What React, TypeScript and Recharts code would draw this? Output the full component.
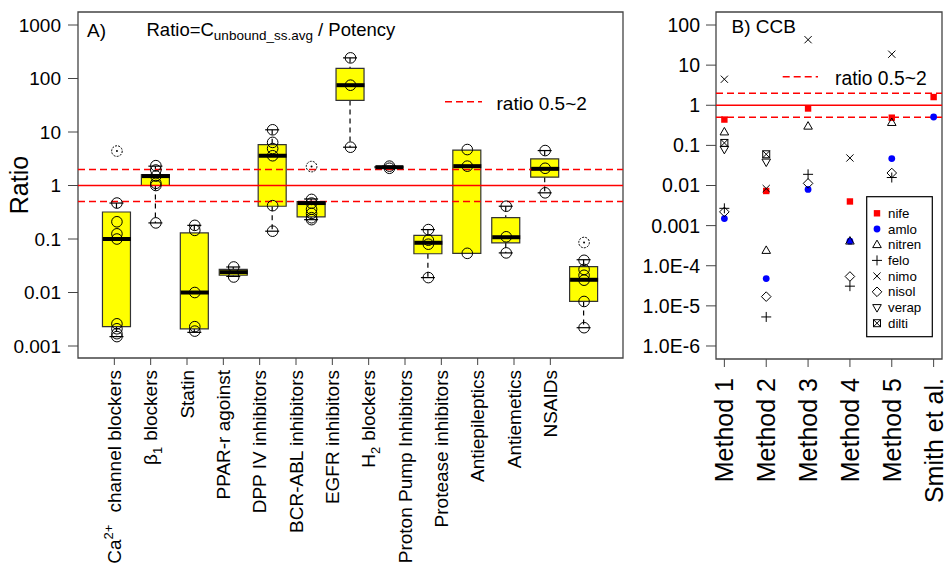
import React from 'react';
import { ComposedChart, Bar, Scatter, XAxis, YAxis, ReferenceLine, ReferenceArea } from 'recharts';

const FONT = '"Liberation Sans", Arial, Helvetica, sans-serif';

// ---- panel A: ratio per drug class (boxplot + individual drugs) ----
const categoryNames = [
  'Ca2+ channel blockers', 'β1 blockers', 'Statin', 'PPAR-r agoinst', 'DPP IV inhibitors',
  'BCR-ABL inhibitors', 'EGFR inhibitors', 'H2 blockers', 'Proton Pump Inhibitors',
  'Protease inhibitors', 'Antiepileptics', 'Antiemetics', 'NSAIDs',
];
const categoryLabels: { main: string; sup?: string; sub?: string; rest?: string; gap?: number }[] = [
  { main: 'Ca', sup: '2+', rest: 'channel blockers', gap: 12 },
  { main: 'β', sub: '1', rest: 'blockers', gap: 6 },
  { main: 'Statin' },
  { main: 'PPAR-r agoinst' },
  { main: 'DPP IV inhibitors' },
  { main: 'BCR-ABL inhibitors' },
  { main: 'EGFR inhibitors' },
  { main: 'H', sub: '2', rest: 'blockers', gap: 6 },
  { main: 'Proton Pump Inhibitors' },
  { main: 'Protease inhibitors' },
  { main: 'Antiepileptics' },
  { main: 'Antiemetics' },
  { main: 'NSAIDs' },
];
const whiskerLow = [0.0015, 0.2, 0.0018, 0.02, 0.14, 0.23, 5.2, 2.1, 0.019, 0.054, 0.055, 0.73, 0.0022];
const boxQ1 = [0.0023, 1.0, 0.0021, 0.021, 0.41, 0.26, 39, 2.15, 0.053, 0.054, 0.085, 1.43, 0.0068];
const boxMedian = [0.1, 1.5, 0.01, 0.024, 3.6, 0.47, 75, 2.2, 0.085, 2.3, 0.108, 2.05, 0.0173];
const boxQ3 = [0.32, 1.6, 0.13, 0.027, 5.8, 0.5, 155, 2.25, 0.117, 4.6, 0.25, 3.15, 0.0306];
const whiskerHigh = [0.47, 2.3, 0.18, 0.03, 11, 0.56, 243, 2.3, 0.15, 4.7, 0.41, 4.5, 0.041];
const classPoints = [
  [0.47, 0.21, 0.125, 0.1, 0.0026, 0.0021, 0.0017, 0.0015],
  [2.35, 1.95, 1.5, 1.1, 1.0, 0.2],
  [0.18, 0.145, 0.01, 0.0023, 0.0019],
  [0.03, 0.0195],
  [11, 6.4, 4.9, 3.6, 0.42, 0.14],
  [0.55, 0.47, 0.36, 0.3, 0.25, 0.23],
  [243, 75, 5.2],
  [2.3, 2.1],
  [0.15, 0.095, 0.08, 0.019],
  [4.7, 2.3, 0.054],
  [0.41, 0.11, 0.055],
  [4.5, 2.1, 0.73],
  [0.04, 0.027, 0.021, 0.017, 0.0068, 0.0022],
];
const classOutliers = [[4.4], [], [], [], [], [2.26], [], [], [], [], [], [], [0.086]];
const yTicksA = [0.001, 0.01, 0.1, 1, 10, 100, 1000];
const yTickLabelsA = ['0.001', '0.01', '0.1', '1', '10', '100', '1000'];

// ---- panel B: CCB, ratio by method ----
const methods = ['Method 1', 'Method 2', 'Method 3', 'Method 4', 'Method 5', 'Smith et al.'];
const nife = [0.44, 0.0073, 0.83, 0.004, 0.49, 1.6];
const amlo = [0.0015, 4.8e-5, 0.008, 4.1e-4, 0.047, 0.51];
const nitren = [0.215, 2.4e-4, 0.3, 4.1e-4, 0.37, null];
const felo = [0.0027, 5.3e-6, 0.019, 3.1e-5, 0.0158, null];
const nimo = [4.45, 0.0084, 43, 0.0485, 18.7, null];
const nisol = [0.0022, 1.7e-5, 0.0113, 5.4e-5, 0.0205, null];
const verap = [0.08, 0.0386, null, null, null, null];
const dilti = [0.115, 0.06, null, null, null, null];
const yTicksB = [1e-6, 1e-5, 1e-4, 0.001, 0.01, 0.1, 1, 10, 100];
const yTickLabelsB = ['1.0E-6', '1.0E-5', '1.0E-4', '0.001', '0.01', '0.1', '1', '10', '100'];

const boxRows = categoryNames.map((name, i) => ({
  pos: i + 1, name, low: whiskerLow[i], q1: boxQ1[i], med: boxMedian[i], q3: boxQ3[i], high: whiskerHigh[i],
}));
const medianRows = boxRows.map((r) => ({ pos: r.pos, v: r.med }));
const pointRows = classPoints.flatMap((vals, i) => vals.map((v) => ({ pos: i + 1, v })));
const outlierRows = classOutliers.flatMap((vals, i) => vals.map((v) => ({ pos: i + 1, v })));
// the labels in the original sit on a 15-slot axis, the boxes on a 14-slot one
const labelTicks = categoryNames.map((_, i) => ((i + 1) * 14) / 15);
const methodTicks = methods.map((_, i) => i + 1);

const compounds = [
  { name: 'nife', values: nife, kind: 'square' },
  { name: 'amlo', values: amlo, kind: 'dot' },
  { name: 'nitren', values: nitren, kind: 'tri' },
  { name: 'felo', values: felo, kind: 'plus' },
  { name: 'nimo', values: nimo, kind: 'cross' },
  { name: 'nisol', values: nisol, kind: 'diamond' },
  { name: 'verap', values: verap, kind: 'triDown' },
  { name: 'dilti', values: dilti, kind: 'boxX' },
].map((c) => ({
  ...c,
  rows: c.values.map((v, i) => ({ m: i + 1, v })).filter((r) => r.v != null),
}));

const RED = '#ff0000';
const BOX_W = 28;

function CategoryTick({ x, y, payload }: any) {
  const idx = labelTicks.findIndex((t) => Math.abs(t - payload.value) < 1e-6);
  const lab = categoryLabels[idx];
  if (!lab) return null;
  const shift = lab.sup ? -8 : lab.sub ? 5 : 0;
  return (
    <text x={x} y={y} transform={`rotate(-90 ${x} ${y})`} textAnchor="end" dy="0.36em"
      fontSize={19} fontFamily={FONT} fill="#000">
      <tspan>{lab.main}</tspan>
      {lab.sup && <tspan fontSize={13} dy={shift}>{lab.sup}</tspan>}
      {lab.sub && <tspan fontSize={13} dy={shift}>{lab.sub}</tspan>}
      {lab.rest && <tspan dx={lab.gap} dy={-shift}>{lab.rest}</tspan>}
    </text>
  );
}

function MethodTick({ x, y, payload }: any) {
  const lab = methods[payload.value - 1];
  return (
    <text x={x} y={y} transform={`rotate(-90 ${x} ${y})`} textAnchor="end" dy="0.36em"
      fontSize={25} fontFamily={FONT} fill="#000">
      {lab}
    </text>
  );
}

function LowerWhisker(p: any) {
  const { x, y, width, height } = p;
  if (!(height > 0.5)) return null;
  const cx = x + width / 2;
  return (
    <g>
      <line x1={cx} x2={cx} y1={y} y2={y + height} stroke="#000" strokeWidth={1.2} strokeDasharray="5 4" />
      <line x1={cx - BOX_W / 4} x2={cx + BOX_W / 4} y1={y + height} y2={y + height} stroke="#000" strokeWidth={1.2} />
    </g>
  );
}

function UpperWhisker(p: any) {
  const { x, y, width, height } = p;
  if (!(height > 0.5)) return null;
  const cx = x + width / 2;
  return (
    <g>
      <line x1={cx} x2={cx} y1={y} y2={y + height} stroke="#000" strokeWidth={1.2} strokeDasharray="5 4" />
      <line x1={cx - BOX_W / 4} x2={cx + BOX_W / 4} y1={y} y2={y} stroke="#000" strokeWidth={1.2} />
    </g>
  );
}

function Marker({ kind, cx, cy }: { kind: string; cx: number; cy: number }) {
  const s = { fill: 'none', stroke: '#000', strokeWidth: 1 };
  switch (kind) {
    case 'square':
      return <rect x={cx - 3.2} y={cy - 3.2} width={6.4} height={6.4} fill={RED} />;
    case 'dot':
      return <circle cx={cx} cy={cy} r={3.4} fill="#0000ff" />;
    case 'tri':
      return <path d={`M${cx},${cy - 4.6} L${cx + 4.3},${cy + 2.9} L${cx - 4.3},${cy + 2.9} Z`} {...s} />;
    case 'triDown':
      return <path d={`M${cx},${cy + 4.6} L${cx + 4.3},${cy - 2.9} L${cx - 4.3},${cy - 2.9} Z`} {...s} />;
    case 'plus':
      return <path d={`M${cx - 5},${cy} H${cx + 5} M${cx},${cy - 5} V${cy + 5}`} {...s} />;
    case 'cross':
      return <path d={`M${cx - 3.6},${cy - 3.6} L${cx + 3.6},${cy + 3.6} M${cx - 3.6},${cy + 3.6} L${cx + 3.6},${cy - 3.6}`} {...s} />;
    case 'diamond':
      return <path d={`M${cx},${cy - 4.8} L${cx + 4.8},${cy} L${cx},${cy + 4.8} L${cx - 4.8},${cy} Z`} {...s} />;
    case 'boxX':
      return (
        <g {...s}>
          <rect x={cx - 3.5} y={cy - 3.5} width={7} height={7} />
          <path d={`M${cx - 3.5},${cy - 3.5} L${cx + 3.5},${cy + 3.5} M${cx - 3.5},${cy + 3.5} L${cx + 3.5},${cy - 3.5}`} />
        </g>
      );
    default:
      return null;
  }
}

const yMinA = Math.pow(10, -3.224);
const yMaxA = Math.pow(10, 3.243);
const yMinB = Math.pow(10, -6.324);
const yMaxB = Math.pow(10, 2.324);

function PanelA() {
  return (
    <ComposedChart width={640} height={566} data={boxRows} margin={{ top: 12, right: 17, bottom: 0, left: 0 }}>
      <XAxis dataKey="pos" type="number" domain={[0, 14]} allowDataOverflow ticks={labelTicks} interval={0}
        tick={<CategoryTick />} tickSize={7} tickMargin={5} height={208} axisLine={false}
        tickLine={{ stroke: '#444' }} />
      <XAxis xAxisId="wlo" dataKey="pos" type="number" domain={[0, 14]} allowDataOverflow hide />
      <XAxis xAxisId="whi" dataKey="pos" type="number" domain={[0, 14]} allowDataOverflow hide />
      <YAxis type="number" scale="log" domain={[yMinA, yMaxA]} allowDataOverflow ticks={yTicksA} interval={0}
        tickFormatter={(v: number) => yTickLabelsA[yTicksA.indexOf(v)] ?? String(v)}
        width={78} tickSize={10} tickMargin={7} axisLine={false} tickLine={{ stroke: '#444' }}
        tick={{ fontSize: 19, fill: '#000', fontFamily: FONT }} />
      <ReferenceLine y={1} stroke={RED} strokeWidth={1.5} />
      <ReferenceLine y={0.5} stroke={RED} strokeWidth={1.5} strokeDasharray="7 4" />
      <ReferenceLine y={2} stroke={RED} strokeWidth={1.5} strokeDasharray="7 4" />
      <Bar xAxisId="wlo" dataKey={(r: any) => [r.low, r.q1]} barSize={BOX_W} shape={LowerWhisker} isAnimationActive={false} />
      <Bar xAxisId="whi" dataKey={(r: any) => [r.q3, r.high]} barSize={BOX_W} shape={UpperWhisker} isAnimationActive={false} />
      <Bar dataKey={(r: any) => [r.q1, r.q3]} barSize={BOX_W} fill="#ffff00" stroke="#333" strokeWidth={1.2} isAnimationActive={false} />
      <Scatter data={medianRows} dataKey="v" isAnimationActive={false}
        shape={(p: any) => <line x1={p.cx - BOX_W / 2} x2={p.cx + BOX_W / 2} y1={p.cy} y2={p.cy} stroke="#000" strokeWidth={4} />} />
      <Scatter data={pointRows} dataKey="v" isAnimationActive={false}
        shape={(p: any) => <circle cx={p.cx} cy={p.cy} r={5.3} fill="none" stroke="#000" strokeWidth={1} />} />
      <Scatter data={outlierRows} dataKey="v" isAnimationActive={false}
        shape={(p: any) => (
          <g>
            <circle cx={p.cx} cy={p.cy} r={5.3} fill="none" stroke="#000" strokeWidth={1} strokeDasharray="2 1.2" />
            <circle cx={p.cx} cy={p.cy} r={1} fill="#000" />
          </g>
        )} />
      <ReferenceArea x1={0} x2={14} y1={yMinA} y2={yMaxA} fill="none" stroke="#444" strokeWidth={1.3} ifOverflow="visible" />
    </ComposedChart>
  );
}

function PanelB() {
  return (
    <ComposedChart width={307} height={566} margin={{ top: 12, right: 5, bottom: 0, left: 0 }}>
      <XAxis dataKey="m" type="number" domain={[0.8, 6.2]} allowDataOverflow ticks={methodTicks} interval={0}
        tick={<MethodTick />} tickSize={8} tickMargin={11} height={207} axisLine={false}
        tickLine={{ stroke: '#444' }} />
      <YAxis type="number" scale="log" domain={[yMinB, yMaxB]} allowDataOverflow ticks={yTicksB} interval={0}
        tickFormatter={(v: number) => yTickLabelsB[yTicksB.indexOf(v)] ?? String(v)}
        width={76} tickSize={10} tickMargin={6} axisLine={false} tickLine={{ stroke: '#444' }}
        tick={{ fontSize: 19.5, fill: '#000', fontFamily: FONT }} />
      <ReferenceLine y={1} stroke={RED} strokeWidth={1.5} />
      <ReferenceLine y={0.5} stroke={RED} strokeWidth={1.5} strokeDasharray="7 4" />
      <ReferenceLine y={2} stroke={RED} strokeWidth={1.5} strokeDasharray="7 4" />
      {compounds.map((c) => (
        <Scatter key={c.name} name={c.name} data={c.rows} dataKey="v" isAnimationActive={false}
          shape={(p: any) => <Marker kind={c.kind} cx={p.cx} cy={p.cy} />} />
      ))}
      <ReferenceArea x1={0.8} x2={6.2} y1={yMinB} y2={yMaxB} fill="none" stroke="#444" strokeWidth={1.3} ifOverflow="visible" />
    </ComposedChart>
  );
}

function Overlay() {
  const t = { fontFamily: FONT, fill: '#000' };
  return (
    <svg width={947} height={566} style={{ position: 'absolute', left: 0, top: 0, pointerEvents: 'none' }}>
      <text x={28} y={185} transform="rotate(-90 28 185)" textAnchor="middle" fontSize={25} {...t}>Ratio</text>
      <text x={87} y={37} fontSize={19} {...t}>A)</text>
      <text x={146.5} y={36} fontSize={18.5} {...t}>
        Ratio=C<tspan fontSize={13.5} dy={3.5}>unbound_ss.avg</tspan>
        <tspan dy={-3.5}> / Potency</tspan>
      </text>
      <line x1={445} x2={482} y1={101.7} y2={101.7} stroke={RED} strokeWidth={1.5} strokeDasharray="7 4" />
      <text x={496.5} y={110} fontSize={19} {...t}>ratio 0.5~2</text>

      <text x={731.5} y={32.5} fontSize={19} {...t}>B) CCB</text>
      <line x1={782.7} x2={818} y1={76.7} y2={76.7} stroke={RED} strokeWidth={1.5} strokeDasharray="7 4" />
      <text x={835} y={84.5} fontSize={19.3} {...t}>ratio 0.5~2</text>
      <rect x={866.7} y={196.7} width={65.6} height={140} fill="#fff" stroke="#000" strokeWidth={1.2} />
      {compounds.map((c, i) => (
        <g key={c.name}>
          <Marker kind={c.kind} cx={877} cy={213.3 + i * 15.7} />
          <text x={888} y={213.3 + i * 15.7} dy="0.35em" fontSize={13.3} {...t}>{c.name}</text>
        </g>
      ))}
    </svg>
  );
}

export default function App() {
  return (
    <div style={{ position: 'absolute', left: 0, top: 0, width: 947, height: 566, background: '#fff', fontFamily: FONT }}>
      <div style={{ position: 'absolute', left: 0, top: 0 }}>
        <PanelA />
      </div>
      <div style={{ position: 'absolute', left: 640, top: 0 }}>
        <PanelB />
      </div>
      <Overlay />
    </div>
  );
}
